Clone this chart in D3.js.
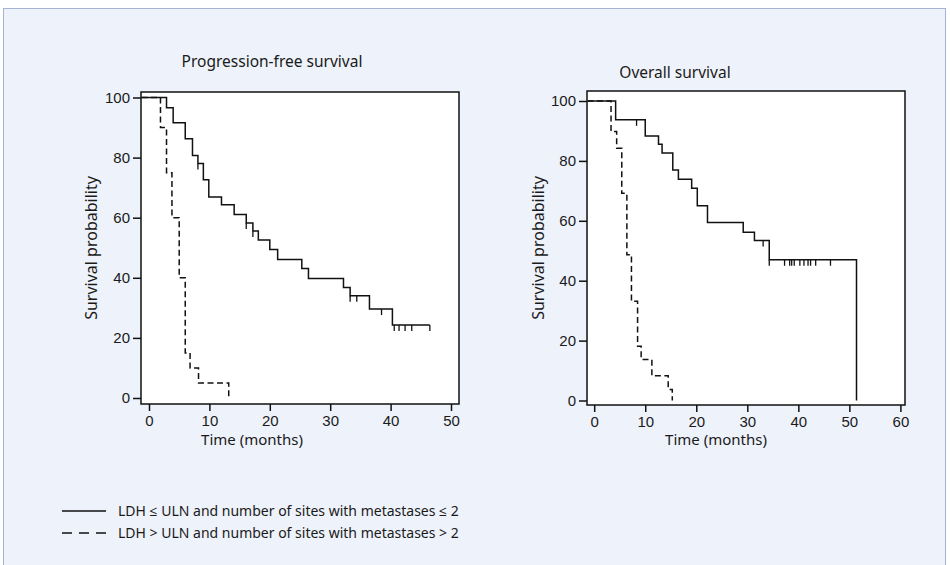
<!DOCTYPE html>
<head>
  <meta charset="utf-8">
  <script src="https://d3js.org/d3.v7.min.js"></script>
  <style>
    body { margin: 0; background: #fff; }
    svg { display: block; font-family: "Noto Sans", "Open Sans", sans-serif; }
    .tick text { font-size: 15px; fill: #1a1a1a; }
    .tick line, .domain { stroke: #111; }
  </style>
</head>
<body>
  <svg id="chart" width="950" height="565"></svg>
  <script>
    // Kaplan-Meier estimates (time in months, survival in %)
    const pfsGoodTime = [0, 2.9, 4.0, 6.0, 7.2, 8.1, 9.0, 9.9, 12.0, 14.1, 16.1, 17.2, 18.1, 20.0, 21.3, 25.3, 26.4, 32.2, 33.3, 36.5, 40.3];
    const pfsGoodSurv = [100, 96.6, 91.6, 86.3, 80.7, 78.0, 72.6, 66.9, 64.3, 61.1, 58.2, 55.6, 52.6, 49.4, 46.1, 43.1, 39.8, 36.8, 34.0, 29.6, 24.3];
    const pfsGoodLast = 46.5;
    const pfsGoodCensored = [8.1, 16.1, 17.2, 33.3, 34.4, 38.5, 40.6, 41.4, 42.4, 43.5, 46.5];

    const pfsPoorTime = [0, 1.9, 2.9, 3.8, 5.0, 6.0, 6.8, 8.2, 13.2];
    const pfsPoorSurv = [100, 90, 75, 60, 40, 15, 10, 5, 0];

    const osGoodTime = [0, 4.2, 10.0, 12.6, 13.3, 15.4, 16.5, 19.1, 20.2, 22.2, 29.2, 31.4, 34.3, 51.4];
    const osGoodSurv = [100, 93.7, 88.3, 85.6, 82.6, 77.0, 73.9, 70.9, 65.0, 59.4, 56.2, 53.4, 47.0, 0];
    const osGoodCensored = [8.3, 33.1, 34.3, 37.3, 38.3, 38.7, 39.2, 40.3, 41.1, 41.9, 42.4, 43.4, 46.3];

    const osPoorTime = [0, 3.3, 4.4, 5.4, 6.4, 7.3, 8.5, 9.2, 11.3, 14.5, 15.3];
    const osPoorSurv = [100, 89.8, 84.2, 69.2, 48.7, 33.1, 18.1, 13.7, 8.3, 3.7, 0];

    const yTicks = [0, 20, 40, 60, 80, 100];
    const pfsXTicks = [0, 10, 20, 30, 40, 50];
    const osXTicks = [0, 10, 20, 30, 40, 50, 60];

    const legendLabels = [
      "LDH \u2264 ULN and number of sites with metastases \u2264 2",
      "LDH > ULN and number of sites with metastases > 2"
    ];

    const svg = d3.select("#chart");

    // light blue panel behind everything
    svg.append("rect")
      .attr("x", 3.5).attr("y", 8.5)
      .attr("width", 942).attr("height", 600)
      .attr("fill", "#eef2fa")
      .attr("stroke", "#a3b5d3");

    const panels = [
      {
        title: "Progression-free survival", titleX: 272, titleY: 67,
        box: {x: 141, y: 92, w: 318, h: 312},
        xRange: [149, 451], xDomain: [0, 50], xTicks: pfsXTicks,
        yRange: [398, 97.5], xLabelX: 252, yLabelX: 97,
        curves: [
          {time: pfsGoodTime, surv: pfsGoodSurv, last: pfsGoodLast, censored: pfsGoodCensored, dash: null},
          {time: pfsPoorTime, surv: pfsPoorSurv, last: null, censored: [], dash: "6,3.5"}
        ]
      },
      {
        title: "Overall survival", titleX: 675, titleY: 78,
        box: {x: 587, y: 91, w: 318, h: 314},
        xRange: [594.2, 900.4], xDomain: [0, 60], xTicks: osXTicks,
        yRange: [400.5, 101], xLabelX: 716, yLabelX: 544,
        curves: [
          {time: osGoodTime, surv: osGoodSurv, last: null, censored: osGoodCensored, dash: null},
          {time: osPoorTime, surv: osPoorSurv, last: null, censored: [], dash: "6,3.5"}
        ]
      }
    ];

    panels.forEach(p => {
      const x = d3.scaleLinear().domain(p.xDomain).range(p.xRange);
      const y = d3.scaleLinear().domain([0, 100]).range(p.yRange);
      const g = svg.append("g");

      g.append("rect")
        .attr("x", p.box.x).attr("y", p.box.y)
        .attr("width", p.box.w).attr("height", p.box.h)
        .attr("fill", "#fff");

      // step curves
      p.curves.forEach(c => {
        const pts = [[p.box.x + 0.5, y(c.surv[0])]];
        c.time.forEach((t, i) => {
          if (i > 0) pts.push([x(t), y(c.surv[i - 1])]);
          pts.push([x(t), y(c.surv[i])]);
        });
        if (c.last != null) pts.push([x(c.last), y(c.surv[c.surv.length - 1])]);
        g.append("path")
          .attr("d", d3.line()(pts))
          .attr("fill", "none")
          .attr("stroke", "#111")
          .attr("stroke-width", 1.5)
          .attr("stroke-dasharray", c.dash);

        const survAt = t => c.surv[d3.bisectRight(c.time, t) - 1];
        g.selectAll(null).data(c.censored).enter().append("line")
          .attr("x1", d => x(d)).attr("x2", d => x(d))
          .attr("y1", d => y(survAt(d)))
          .attr("y2", d => y(survAt(d)) + 6)
          .attr("stroke", "#111")
          .attr("stroke-width", 1.3);
      });

      // frame
      g.append("rect")
        .attr("x", p.box.x).attr("y", p.box.y)
        .attr("width", p.box.w).attr("height", p.box.h)
        .attr("fill", "none")
        .attr("stroke", "#111")
        .attr("stroke-width", 1.5);

      const xAxis = g.append("g")
        .attr("transform", `translate(0,${p.box.y + p.box.h})`)
        .call(d3.axisBottom(x).tickValues(p.xTicks).tickSize(7).tickPadding(4));
      xAxis.select(".domain").remove();
      xAxis.selectAll(".tick line").attr("stroke-width", 1.5);

      const yAxis = g.append("g")
        .attr("transform", `translate(${p.box.x},0)`)
        .call(d3.axisLeft(y).tickValues(yTicks).tickSize(8).tickPadding(3));
      yAxis.select(".domain").remove();
      yAxis.selectAll(".tick line").attr("stroke-width", 1.5);

      g.append("text")
        .attr("x", p.titleX).attr("y", p.titleY)
        .attr("text-anchor", "middle")
        .attr("font-size", 15.5).attr("fill", "#1a1a1a")
        .text(p.title);

      g.append("text")
        .attr("x", p.xLabelX).attr("y", 445)
        .attr("text-anchor", "middle")
        .attr("font-size", 15).attr("fill", "#1a1a1a")
        .text("Time (months)");

      g.append("text")
        .attr("transform", `translate(${p.yLabelX},${p.box.y + p.box.h / 2}) rotate(-90)`)
        .attr("text-anchor", "middle")
        .attr("font-size", 16).attr("fill", "#1a1a1a")
        .text("Survival probability");
    });

    // legend
    const legend = svg.append("g");
    legendLabels.forEach((lab, i) => {
      const ly = 511 + i * 22;
      legend.append("line")
        .attr("x1", 62).attr("x2", 106)
        .attr("y1", ly).attr("y2", ly)
        .attr("stroke", "#111").attr("stroke-width", 1.4)
        .attr("stroke-dasharray", i === 1 ? "10,7" : null);
      legend.append("text")
        .attr("x", 118).attr("y", ly + 5)
        .attr("font-size", 14).attr("fill", "#1a1a1a")
        .text(lab);
    });
  </script>
</body>
